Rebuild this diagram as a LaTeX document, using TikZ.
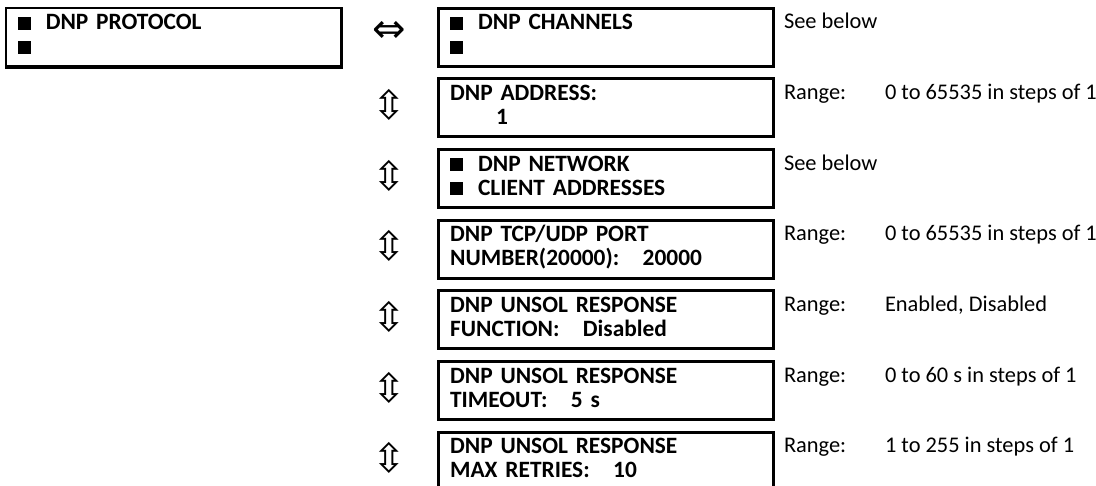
\documentclass[tikz,border=0pt]{standalone}
\usepackage{fontspec}
\setmainfont{Carlito}
\newfontfamily\arrowfont{DejaVu Sans}
\usetikzlibrary{positioning}
\newcommand{\sqmark}{\rule{6.5pt}{6.5pt}\hspace{7.5pt}}
\newcommand{\rangetxt}[1]{\makebox[50.5pt][l]{Range:}#1}
\tikzset{menu/.style={draw, line width=1.5pt, minimum width=167.5pt, minimum height=29pt, inner xsep=6pt, inner ysep=0pt, text width=155.5pt, text height=8pt, text depth=15.5pt, align=left, font=\bfseries\fontsize{11.7}{12}\selectfont}, topmenu/.style={menu, line width=0.8pt}, rng/.style={anchor=base west, inner sep=0pt, align=left, font=\fontsize{11.2}{12}\selectfont}, nav/.style={inner sep=0pt, font=\arrowfont\fontsize{20}{20}\selectfont}}

\begin{document}
\begin{tikzpicture}[node distance=4.83pt]
\useasboundingbox (0,0) rectangle (548pt,-243pt);
\node[topmenu, anchor=north west] (proto) at (2.5pt,-3.75pt) {\sqmark DNP PROTOCOL\\\sqmark};
\draw[line width=1.5pt] (proto.north east) -- (proto.south east) -- (proto.south west);
\node[menu, right=47.5pt of proto] (chan) {\sqmark DNP CHANNELS\\\sqmark};
\node[menu, below=of chan] (addr) {DNP ADDRESS:\\\hspace*{23pt}1};
\node[menu, below=of addr] (netw) {\sqmark DNP NETWORK\\\sqmark CLIENT ADDRESSES};
\node[menu, below=of netw] (port) {DNP TCP/UDP PORT\\NUMBER(20000):~~~20000};
\node[menu, below=of port] (unsfn) {DNP UNSOL RESPONSE\\FUNCTION:~~~Disabled};
\node[menu, below=of unsfn] (unsto) {DNP UNSOL RESPONSE\\TIMEOUT:~~~5 s};
\node[menu, below=of unsto] (unsret) {DNP UNSOL RESPONSE\\MAX RETRIES:~~~10};
\node[nav] (chann) at ([xshift=-23.5pt,yshift=2.5pt]chan.west) {⇔};
\node[nav] (addrn) at ([xshift=-23.5pt,yshift=1.5pt]addr.west) {⇳};
\node[nav] (netwn) at ([xshift=-23.5pt,yshift=1.5pt]netw.west) {⇳};
\node[nav] (portn) at ([xshift=-23.5pt,yshift=1.5pt]port.west) {⇳};
\node[nav] (unsfnn) at ([xshift=-23.5pt,yshift=1.5pt]unsfn.west) {⇳};
\node[nav] (unston) at ([xshift=-23.5pt,yshift=1.5pt]unsto.west) {⇳};
\node[nav] (unsretn) at ([xshift=-23.5pt,yshift=1.5pt]unsret.west) {⇳};
\node[rng] (chand) at ([xshift=4.5pt,yshift=-11pt]chan.north east) {See below};
\node[rng] (addrd) at ([xshift=4.5pt,yshift=-11pt]addr.north east) {\rangetxt{0 to 65535 in steps of 1}};
\node[rng] (netwd) at ([xshift=4.5pt,yshift=-11pt]netw.north east) {See below};
\node[rng] (portd) at ([xshift=4.5pt,yshift=-11pt]port.north east) {\rangetxt{0 to 65535 in steps of 1}};
\node[rng] (unsfnd) at ([xshift=4.5pt,yshift=-11pt]unsfn.north east) {\rangetxt{Enabled, Disabled}};
\node[rng] (unstod) at ([xshift=4.5pt,yshift=-11pt]unsto.north east) {\rangetxt{0 to 60 s in steps of 1}};
\node[rng] (unsretd) at ([xshift=4.5pt,yshift=-11pt]unsret.north east) {\rangetxt{1 to 255 in steps of 1}};
\end{tikzpicture}
\end{document}
